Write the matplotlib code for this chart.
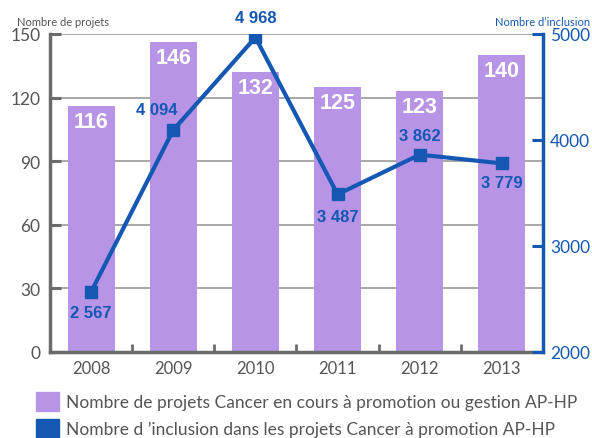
import matplotlib
matplotlib.use("Agg")
import matplotlib.pyplot as plt
from matplotlib.patches import Patch

years = ["2008", "2009", "2010", "2011", "2012", "2013"]
projets = [116, 146, 132, 125, 123, 140]
inclusions = [2567, 4094, 4968, 3487, 3862, 3779]
inclusion_labels = ["2 567", "4 094", "4 968", "3 487", "3 862", "3 779"]
# label offsets in points (dx, dy) relative to each marker
label_offsets = [(0, -15), (-12, 15), (0, 14), (0, -16), (0, 14), (0, -14)]

gray = "#6b6b6b"
blue = "#1458b4"
purple = "#b794e6"

plt.rcParams["font.family"] = ["Lato", "DejaVu Sans"]

fig = plt.figure(figsize=(5.92, 4.39), dpi=100)
ax = fig.add_axes([50 / 592, 86 / 439, 493 / 592, 318 / 439])

x = range(len(years))
ax.bar(x, projets, width=0.57, color=purple, zorder=2)
for xi, v in zip(x, projets):
    ax.annotate(str(v), (xi, v), xytext=(0, -11), textcoords="offset points",
                ha="center", va="center", color="white", fontsize=15.5,
                fontweight="bold", family="Liberation Sans", zorder=3)

ax.set_xlim(-0.5, 5.5)
ax.set_ylim(0, 150)
ax.set_yticks([0, 30, 60, 90, 120, 150])
ax.yaxis.grid(True, color="#9a9a9a", lw=1.2, zorder=0)
ax.set_axisbelow(True)
ax.set_xticks(list(x))
ax.set_xticklabels(years)
ax.set_xticks([0.5, 1.5, 2.5, 3.5, 4.5], minor=True)
ax.tick_params(axis="x", which="major", length=0, pad=6, labelsize=12, labelcolor="#555555")
ax.tick_params(axis="x", which="minor", direction="in", length=6, width=2, color=gray)
ax.tick_params(axis="y", direction="in", length=8, width=2.2, color=gray,
               labelsize=12.5, labelcolor="#555555", pad=7)
for s in ["top", "right"]:
    ax.spines[s].set_visible(False)
for s in ["left", "bottom"]:
    ax.spines[s].set_color(gray)
    ax.spines[s].set_linewidth(2.5)
    ax.spines[s].set_capstyle("projecting")

ax2 = ax.twinx()
ax2.set_ylim(2000, 5000)
ax2.set_yticks([2000, 3000, 4000, 5000])
ax2.plot(list(x), inclusions, color=blue, lw=3, marker="s", markersize=9, zorder=4)
for xi, v, lab, off in zip(x, inclusions, inclusion_labels, label_offsets):
    ax2.annotate(lab, (xi, v), xytext=off, textcoords="offset points",
                 ha="center", va="center", color=blue, fontsize=12,
                 fontweight="bold", family="Liberation Sans")
ax2.tick_params(axis="y", direction="in", length=8, width=2.2, color=blue,
                labelsize=12.5, labelcolor=blue, pad=5)
for s in ["top", "left", "bottom"]:
    ax2.spines[s].set_visible(False)
ax2.spines["right"].set_color(blue)
ax2.spines["right"].set_linewidth(2.5)
ax2.spines["right"].set_capstyle("projecting")

fig.text(17 / 592, 1 - 22 / 439, "Nombre de projets", color="#555555", fontsize=8,
         va="center", ha="left")
fig.text(590 / 592, 1 - 22 / 439, "Nombre d’inclusion", color=blue, fontsize=8,
         va="center", ha="right")

handles = [Patch(color=purple), Patch(color=blue)]
labels = ["Nombre de projets Cancer en cours à promotion ou gestion AP-HP",
          "Nombre d ’inclusion dans les projets Cancer à promotion AP-HP"]
fig.legend(handles, labels, loc="upper left", bbox_to_anchor=(36 / 592, 1 - 393 / 439),
           frameon=False, fontsize=12.5, handlelength=1.3, handleheight=1.3,
           handletextpad=0.4, labelspacing=0.45, labelcolor="#555555",
           borderpad=0, borderaxespad=0)

fig.savefig("out.png", dpi=100)
